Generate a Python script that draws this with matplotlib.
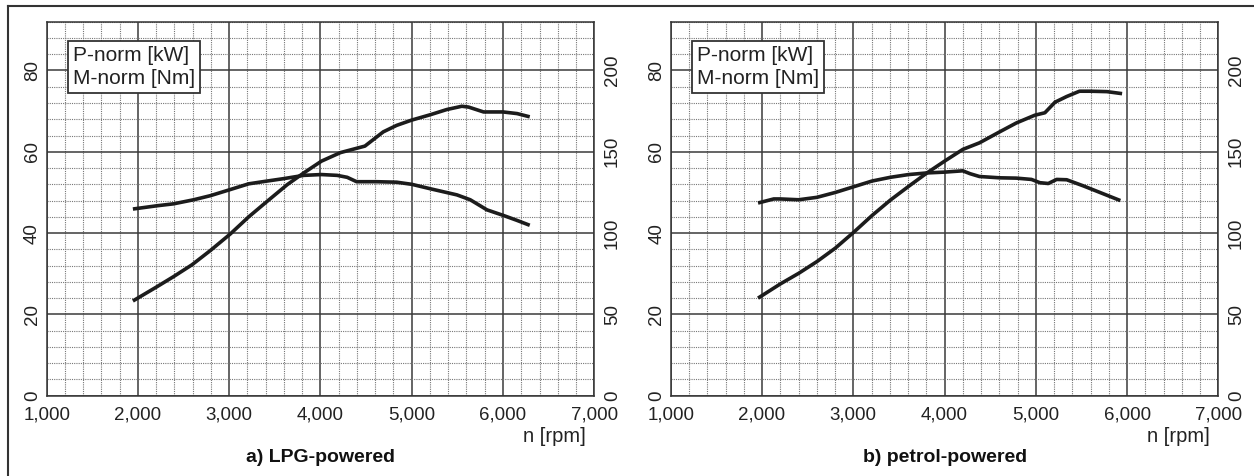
import matplotlib.pyplot as plt
from matplotlib.lines import Line2D
from matplotlib.ticker import MultipleLocator, FuncFormatter

plt.rcParams['font.family'] = ['Liberation Sans', 'DejaVu Sans']

# a) LPG-powered
lpg_p_rpm = [1945, 2208, 2391, 2592, 2793, 3013, 3214, 3415, 3635, 3817, 4011, 4219,
             4420, 4487, 4688, 4835, 5000, 5201, 5385, 5549, 5623, 5787, 6000, 6154, 6293]
lpg_p_kw = [23.3, 26.8, 29.3, 32.2, 35.7, 39.8, 44.0, 47.8, 51.9, 54.8, 57.7, 59.8,
            61.0, 61.4, 64.9, 66.5, 67.8, 69.1, 70.4, 71.2, 71.0, 69.8, 69.8, 69.4, 68.6]
lpg_m_rpm = [1945, 2208, 2391, 2611, 2793, 3013, 3214, 3415, 3598, 3817, 4011, 4183,
             4293, 4396, 4615, 4835, 5000, 5201, 5495, 5641, 5824, 6007, 6154, 6293]
lpg_m_nm = [114.8, 116.8, 118.0, 120.5, 123.0, 126.8, 130.3, 132.0, 133.5, 135.5, 136.0, 135.5,
            134.3, 131.6, 131.6, 131.3, 130.0, 127.3, 123.5, 120.5, 114.3, 110.8, 107.8, 104.8]

# b) petrol-powered
pet_p_rpm = [1956, 2201, 2401, 2602, 2803, 3004, 3204, 3405, 3606, 3807, 4000, 4201,
             4382, 4603, 4787, 4989, 5099, 5210, 5338, 5478, 5596, 5779, 5945]
pet_p_kw = [24.0, 27.5, 30.1, 33.0, 36.3, 40.2, 44.3, 48.1, 51.5, 54.8, 57.7, 60.6,
            62.2, 64.9, 67.1, 69.0, 69.6, 72.2, 73.6, 74.9, 74.9, 74.8, 74.3]
pet_m_rpm = [1956, 2128, 2201, 2401, 2602, 2803, 3004, 3204, 3405, 3606, 3807, 4000, 4199,
             4281, 4382, 4603, 4787, 4952, 5044, 5136, 5228, 5338, 5522, 5724, 5926]
pet_m_nm = [118.5, 121.0, 121.0, 120.5, 122.0, 125.0, 128.5, 132.0, 134.3, 136.0, 137.0, 137.5, 138.3,
            136.5, 134.8, 134.0, 133.8, 133.0, 131.0, 130.5, 133.0, 132.8, 129.0, 124.5, 120.0]

x_ticks = [1000, 2000, 3000, 4000, 5000, 6000, 7000]
p_ticks = [0, 20, 40, 60, 80]
m_ticks = [0, 50, 100, 150, 200]

LINE = '#1c1c1c'


def draw_panel(ax, p_rpm, p_kw, m_rpm, m_nm, title):
    ax.set_xlim(1000, 7000)
    ax.set_ylim(0, 92)
    ax.xaxis.set_minor_locator(MultipleLocator(200))
    ax.yaxis.set_minor_locator(MultipleLocator(4))
    ax.set_xticks(x_ticks)
    ax.set_yticks(p_ticks)
    ax.xaxis.set_major_formatter(FuncFormatter(lambda v, pos: f"{int(v):,}"))
    ax.grid(True, which='minor', color='#777777', lw=0.8, ls=(0, (1, 1)))
    ax.grid(True, which='major', color='#3a3a3a', lw=1.1)
    ax.set_axisbelow(True)
    ax.tick_params(which='both', length=0, labelsize=13.5, colors='#222222')
    ax.tick_params(axis='x', pad=8)
    ax.tick_params(axis='y', pad=4)
    for lab in ax.get_yticklabels():
        lab.set_rotation(90)
        lab.set_va('center')
    for s in ax.spines.values():
        s.set_color('#333333')
        s.set_linewidth(1.1)

    ax2 = ax.twinx()
    ax2.set_ylim(0, 230)
    ax2.set_yticks(m_ticks)
    ax2.tick_params(length=0, labelsize=13.5, colors='#222222', pad=7)
    for lab in ax2.get_yticklabels():
        lab.set_rotation(90)
        lab.set_va('center')
    for s in ax2.spines.values():
        s.set_visible(False)

    ax.plot(p_rpm, p_kw, color=LINE, lw=2.6, solid_joinstyle='round', solid_capstyle='butt')
    ax2.plot(m_rpm, m_nm, color=LINE, lw=2.6, solid_joinstyle='round', solid_capstyle='butt')

    ax.text(0.048, 0.935, "P-norm [kW]\nM-norm [Nm]", transform=ax.transAxes,
            fontsize=15, va='top', ha='left', color='#222222', linespacing=1.25,
            bbox=dict(boxstyle='square,pad=0.25', fc='white', ec='#333333', lw=1.3),
            zorder=5)
    ax.text(0.985, -0.11, "n [rpm]", transform=ax.transAxes, fontsize=14.5,
            ha='right', va='center', color='#222222')
    ax.text(0.5, -0.164, title, transform=ax.transAxes, fontsize=14,
            fontweight='bold', ha='center', va='center', color='#111111')


fig = plt.figure(figsize=(12.54, 4.76), dpi=100)
ax_a = fig.add_axes([0.0372, 0.1687, 0.4367, 0.7857])
ax_b = fig.add_axes([0.5349, 0.1687, 0.4367, 0.7857])

draw_panel(ax_a, lpg_p_rpm, lpg_p_kw, lpg_m_rpm, lpg_m_nm, "a) LPG-powered")
draw_panel(ax_b, pet_p_rpm, pet_p_kw, pet_m_rpm, pet_m_nm, "b) petrol-powered")

# outer frame (top and left edges)
fig.add_artist(Line2D([8 / 1254, 1], [1 - 6 / 476, 1 - 6 / 476], transform=fig.transFigure,
                      color='#333333', lw=1.5))
fig.add_artist(Line2D([8 / 1254, 8 / 1254], [0, 1 - 6 / 476], transform=fig.transFigure,
                      color='#333333', lw=1.5))

fig.savefig("out.png", dpi=100)
